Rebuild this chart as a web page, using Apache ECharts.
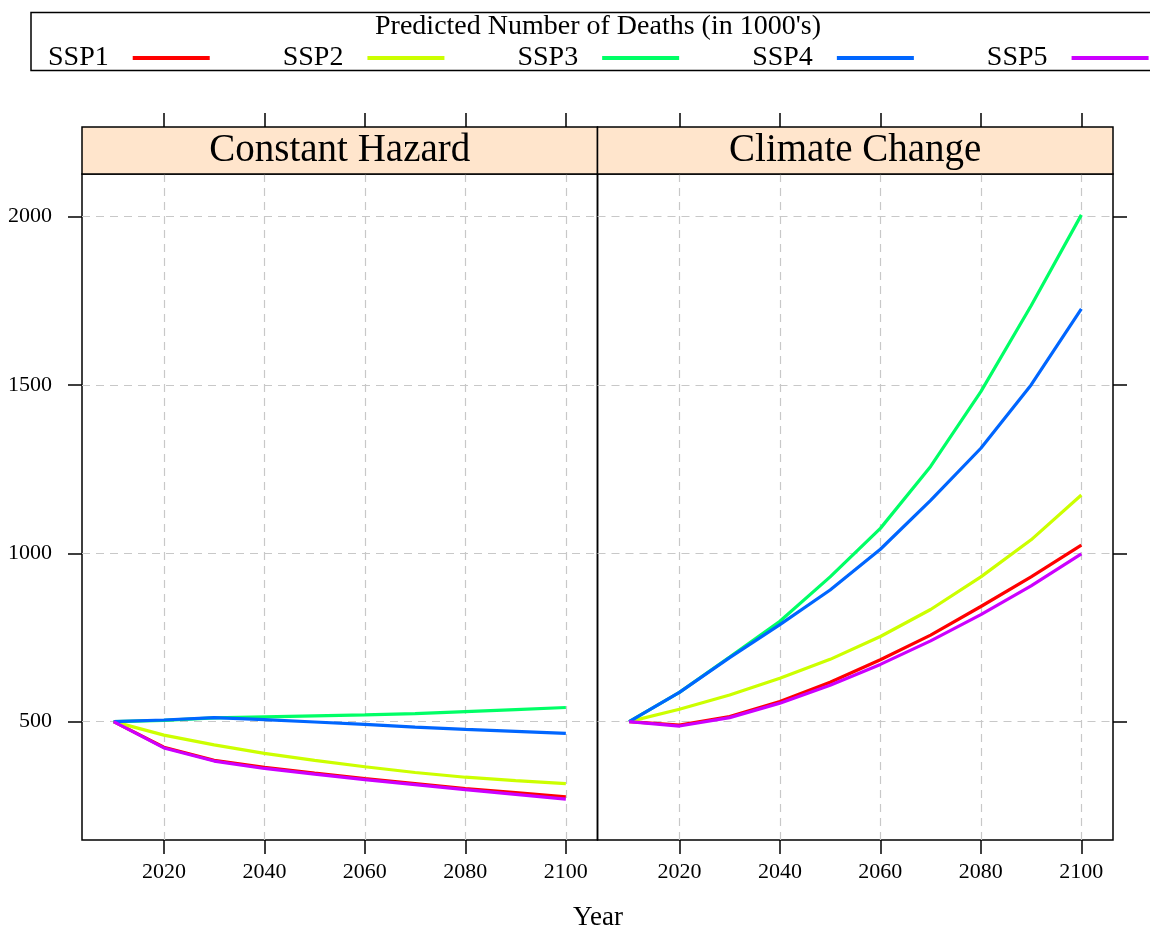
<!DOCTYPE html>
<html><head><meta charset="utf-8">
<script src="https://cdn.jsdelivr.net/npm/echarts@6/dist/echarts.min.js"></script>
<style>html,body{margin:0;padding:0;background:#fff}#c{width:1150px;height:929px}</style>
</head><body><div id="c"></div>
<script>
// ---------- data ----------
const years = [2010, 2020, 2030, 2040, 2050, 2060, 2070, 2080, 2090, 2100];
const panelTitles = ['Constant Hazard', 'Climate Change'];
const seriesNames = ['SSP1', 'SSP2', 'SSP3', 'SSP4', 'SSP5'];
const legendTitle = "Predicted Number of Deaths (in 1000's)";
const xAxisTitle = 'Year';
const xTicks = [2020, 2040, 2060, 2080, 2100];
const yTicks = [500, 1000, 1500, 2000];

// Constant Hazard panel
const hazardSSP1 = [500, 424, 385, 364, 347, 331, 316, 301, 289, 277];
const hazardSSP2 = [500, 460, 431, 406, 385, 366, 349, 335, 325, 316];
const hazardSSP3 = [500, 504, 511, 514, 517, 520, 524, 530, 536, 542];
const hazardSSP4 = [500, 505, 512, 506, 499, 492, 484, 477, 471, 465];
const hazardSSP5 = [500, 422, 383, 361, 344, 328, 313, 298, 284, 270];

// Climate Change panel
const climateSSP1 = [500, 490, 515, 560, 617, 684, 757, 842, 930, 1024];
const climateSSP2 = [500, 537, 579, 629, 685, 753, 833, 930, 1040, 1173];
const climateSSP3 = [500, 587, 692, 798, 930, 1074, 1258, 1480, 1735, 2005];
const climateSSP4 = [500, 587, 690, 788, 891, 1012, 1157, 1312, 1500, 1726];
const climateSSP5 = [500, 487, 512, 555, 608, 670, 740, 818, 903, 998];

// ---------- styling ----------
const colors = ['#FF0000', '#CCFF00', '#00FF66', '#0066FF', '#CC00FF'];
const FONT = '"Liberation Serif", "Times New Roman", serif';

const panelData = [
  [hazardSSP1, hazardSSP2, hazardSSP3, hazardSSP4, hazardSSP5],
  [climateSSP1, climateSSP2, climateSSP3, climateSSP4, climateSSP5]
];

// lattice-style limits: extend data range by 7% on each side
const allY = panelData.flat(2);
const yLo = Math.min(...allY), yHi = Math.max(...allY);
const xLo = Math.min(...years), xHi = Math.max(...years);
const yMin = yLo - 0.07 * (yHi - yLo), yMax = yHi + 0.07 * (yHi - yLo);
const xMin = xLo - 0.07 * (xHi - xLo), xMax = xHi + 0.07 * (xHi - xLo);

const PLOT_TOP = 174, PLOT_H = 666, STRIP_H = 47;
const gridLefts = [82, 597.5], GRID_W = 515.5;

const dashed = { show: true, lineStyle: { color: '#c8c8c8', type: [8, 6], width: 1.2 } };
const tickStyle = { lineStyle: { color: '#000', width: 1.5 } };
const plain = v => String(v);

const xAxes = [], yAxes = [], grids = [], series = [];
gridLefts.forEach((gl, i) => {
  grids.push({ left: gl, top: PLOT_TOP, width: GRID_W, height: PLOT_H, show: true,
    borderColor: '#000', borderWidth: 1.5, backgroundColor: 'transparent' });
  xAxes.push({ gridIndex: i, type: 'value', position: 'bottom', min: xMin, max: xMax,
    axisLine: { show: false },
    axisTick: { show: true, inside: false, length: 14, customValues: xTicks, ...tickStyle },
    axisLabel: { show: true, customValues: xTicks, formatter: plain, margin: 21,
      fontFamily: FONT, fontSize: 22, color: '#000' },
    splitLine: dashed });
  yAxes.push({ gridIndex: i, type: 'value', position: i === 0 ? 'left' : 'right', min: yMin, max: yMax,
    axisLine: { show: false },
    axisTick: { show: true, inside: false, length: 14, customValues: yTicks, ...tickStyle },
    axisLabel: { show: i === 0, customValues: yTicks, formatter: plain, margin: 30,
      fontFamily: FONT, fontSize: 22, color: '#000' },
    splitLine: dashed });
});
// top tick axes (above strips)
gridLefts.forEach((gl, i) => {
  xAxes.push({ gridIndex: i, type: 'value', position: 'top', offset: STRIP_H, min: xMin, max: xMax,
    axisLine: { show: false },
    axisTick: { show: true, inside: false, length: 14, customValues: xTicks, ...tickStyle },
    axisLabel: { show: false, customValues: xTicks },
    splitLine: { show: false } });
});

panelData.forEach((arrs, p) => {
  arrs.forEach((vals, s) => {
    series.push({
      name: seriesNames[s], type: 'line', xAxisIndex: p, yAxisIndex: p,
      data: years.map((y, k) => [y, vals[k]]),
      symbol: 'none', showSymbol: false, smooth: false, color: colors[s],
      lineStyle: { width: 3.2, color: colors[s] }, silent: true, z: 3 + s
    });
  });
});

const graphic = [
  { type: 'rect', shape: { x: 31, y: 12.5, width: 1140, height: 58 },
    style: { fill: 'none', stroke: '#000', lineWidth: 1.5 }, z: 1 },
  { type: 'text', x: 598, y: 27, style: { text: legendTitle, font: '28px ' + FONT,
    fill: '#000', textAlign: 'center', textVerticalAlign: 'middle' } },
  { type: 'text', x: 598, y: 918, style: { text: xAxisTitle, font: '27px ' + FONT,
    fill: '#000', textAlign: 'center', textVerticalAlign: 'middle' } }
];
gridLefts.forEach((gl, i) => {
  graphic.push({ type: 'rect', shape: { x: gl, y: PLOT_TOP - STRIP_H, width: GRID_W, height: STRIP_H },
    style: { fill: '#ffe5cc', stroke: '#000', lineWidth: 1.5 }, z: 1 });
  graphic.push({ type: 'text', x: gl + GRID_W / 2, y: PLOT_TOP - STRIP_H / 2, z: 2,
    style: { text: panelTitles[i], font: '39px ' + FONT, fill: '#000',
      textAlign: 'center', textVerticalAlign: 'middle' } });
});

const chart = echarts.init(document.getElementById('c'), null, { renderer: 'canvas' });
chart.setOption({
  animation: false,
  backgroundColor: '#fff',
  grid: grids, xAxis: xAxes, yAxis: yAxes, series: series,
  legend: {
    data: seriesNames.map((n, k) => ({ name: n, icon: 'rect', itemStyle: { color: colors[k] } })),
    left: 43, top: 39, width: 1400, orient: 'horizontal', align: 'right',
    itemWidth: 77, itemHeight: 4, itemGap: 73, selectedMode: false,
    textStyle: { fontFamily: FONT, fontSize: 28, color: '#000', padding: [0, 19, 0, 0] }
  },
  graphic: graphic
});
</script>
</body></html>
